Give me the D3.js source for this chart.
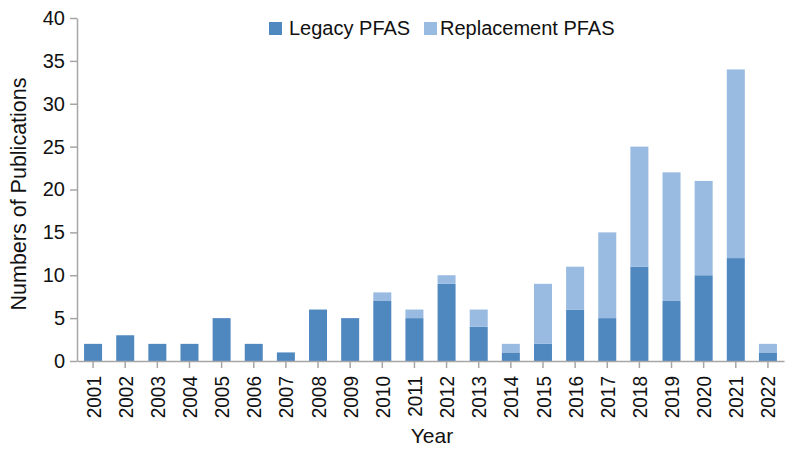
<!DOCTYPE html>
<html>
<head>
<meta charset="utf-8">
<script src="https://cdn.jsdelivr.net/npm/d3@7"></script>
<style>
  body { margin: 0; background: #fff; }
  svg text { font-family: "Liberation Sans", Arial, sans-serif; fill: #111; }
  .axis path, .axis line { stroke: #a6a6a6; stroke-width: 1.5; }
</style>
</head>
<body>
<svg id="chart"></svg>
<script>
const years = ['2001','2002','2003','2004','2005','2006','2007','2008','2009','2010','2011',
  '2012','2013','2014','2015','2016','2017','2018','2019','2020','2021','2022'];
const legacy = [2, 3, 2, 2, 5, 2, 1, 6, 5, 7, 5, 9, 4, 1, 2, 6, 5, 11, 7, 10, 12, 1];
const replacement = [0, 0, 0, 0, 0, 0, 0, 0, 0, 1, 1, 1, 2, 1, 7, 5, 10, 14, 15, 11, 22, 1];
const seriesNames = ['Legacy PFAS', 'Replacement PFAS'];
const colors = ['#4f87bf', '#99bae1'];
const yTicks = [0, 5, 10, 15, 20, 25, 30, 35, 40];

const width = 787, height = 452;
const margin = { top: 18, right: 3, bottom: 91, left: 77 };
const chartWidth = width - margin.left - margin.right;
const chartHeight = height - margin.top - margin.bottom;

const svg = d3.select('#chart').attr('width', width).attr('height', height);
const g = svg.append('g').attr('transform', `translate(${margin.left},${margin.top})`);

const rows = years.map((y, i) => ({ year: y, legacy: legacy[i], replacement: replacement[i] }));
const stack = d3.stack().keys(['legacy', 'replacement'])(rows);

const x = d3.scaleBand().domain(years).range([0, chartWidth]).paddingInner(0.44).paddingOuter(0.22);
const y = d3.scaleLinear().domain([0, 40]).range([chartHeight, 0]);

// bars
g.selectAll('.series')
  .data(stack)
  .enter()
  .append('g')
  .attr('fill', (d, i) => colors[i])
  .selectAll('rect')
  .data(d => d)
  .enter()
  .append('rect')
  .attr('x', d => x(d.data.year))
  .attr('y', d => y(d[1]))
  .attr('width', x.bandwidth())
  .attr('height', d => y(d[0]) - y(d[1]));

// x axis
const xAxis = g.append('g')
  .attr('class', 'axis')
  .attr('transform', `translate(0,${chartHeight})`)
  .call(d3.axisBottom(x).tickSize(7).tickSizeOuter(0));
xAxis.selectAll('text')
  .style('font-size', '19px')
  .attr('transform', 'rotate(-90) scale(1,1.1)')
  .attr('text-anchor', 'end')
  .attr('x', -15)
  .attr('y', 0)
  .attr('dy', '0.36em');

// y axis
const yAxis = g.append('g')
  .attr('class', 'axis')
  .call(d3.axisLeft(y).tickValues(yTicks).tickSize(7).tickSizeOuter(0).tickPadding(5));
yAxis.selectAll('text').style('font-size', '20px');

// axis titles
svg.append('text')
  .attr('x', 432)
  .attr('y', 443)
  .attr('text-anchor', 'middle')
  .style('font-size', '21px')
  .text('Year');

svg.append('text')
  .attr('transform', 'translate(26,194) rotate(-90)')
  .attr('text-anchor', 'middle')
  .style('font-size', '21.5px')
  .text('Numbers of Publications');

// legend
const legendX = [269, 424];
const legend = svg.append('g');
seriesNames.forEach((name, i) => {
  legend.append('rect')
    .attr('x', legendX[i])
    .attr('y', 22)
    .attr('width', 13)
    .attr('height', 13)
    .attr('fill', colors[i]);
  legend.append('text')
    .attr('x', legendX[i] + (i === 0 ? 20 : 16))
    .attr('y', 35)
    .style('font-size', '20px')
    .text(name);
});
</script>
</body>
</html>
